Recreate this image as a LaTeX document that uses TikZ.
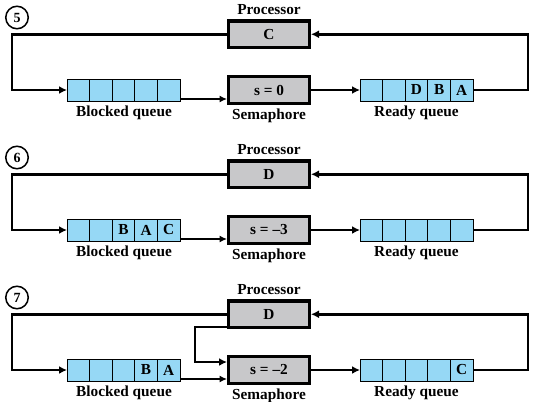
\documentclass[tikz,border=0pt]{standalone}
\usepackage{fontspec}
\setmainfont{Liberation Serif}
\usepackage{tikz}
\usetikzlibrary{arrows.meta,calc}
\definecolor{qblue}{RGB}{150,216,245}
\definecolor{boxgray}{RGB}{200,200,202}

\begin{document}
\begin{tikzpicture}[
  x=1pt,y=1pt,>={Latex[length=8pt,width=8pt]},
  every node/.style={font=\bfseries\fontsize{15.3}{17}\selectfont},
  cell/.style={draw,fill=qblue,line width=0.8pt,minimum width=22.6pt,minimum height=22pt,inner sep=0pt,outer sep=0pt},
  unit/.style={draw,fill=boxgray,line width=3.3pt,minimum width=80.7pt,minimum height=26.5pt,inner sep=0pt},
  tag/.style={draw,circle,line width=1.5pt,minimum size=22.5pt,inner sep=0pt,font=\bfseries\fontsize{14}{15}\selectfont},
  loopline/.style={->,line width=2.6pt},
  feed/.style={->,line width=1.3pt,>={Latex[length=7.5pt,width=7pt]}}
]
  \useasboundingbox (0,0) rectangle (536,-402);

  % Panel 5
  \node[tag] (t5) at (17,-17.5) {5};
  \node (p5lbl) at (269,-9.5) {Processor};
  \node[unit] (p5) at (269,-34.25) {C};
  \node[unit] (s5) at (269,-90) {s = 0};
  \node (s5lbl) at (269,-115.5) {Semaphore};
  \node[cell] (b5a) at (78.3,-90)  {};
  \node[cell] (b5b) at (100.9,-90) {};
  \node[cell] (b5c) at (123.5,-90) {};
  \node[cell] (b5d) at (146.1,-90) {};
  \node[cell] (b5e) at (168.7,-90) {};
  \node (b5lbl) at (124,-113) {Blocked queue};
  \node[cell] (r5a) at (371.3,-90) {};
  \node[cell] (r5b) at (393.9,-90) {};
  \node[cell] (r5c) at (416.5,-90) {D};
  \node[cell] (r5d) at (439.1,-90) {B};
  \node[cell] (r5e) at (461.7,-90) {A};
  \node (r5lbl) at (416.5,-113) {Ready queue};
  \coordinate (L5) at (12,-34.25);
  \coordinate (R5) at (528,-34.25);
  \draw[loopline] (p5.west) -- (L5) |- (b5a.west);
  \draw[loopline] (r5e.east) -| (R5) -- (p5.east);
  \draw[feed] ($(b5e.south east)+(0,2)$) -- ($(s5.west |- b5e.south east)+(0,2)$);
  \draw[loopline] (s5.east) -- (r5a.west);

  % Panel 6
  \node[tag] (t6) at (17,-157.5) {6};
  \node (p6lbl) at (269,-149.5) {Processor};
  \node[unit] (p6) at (269,-174.25) {D};
  \node[unit] (s6) at (269,-230) {s = –3};
  \node (s6lbl) at (269,-255.5) {Semaphore};
  \node[cell] (b6a) at (78.3,-230)  {};
  \node[cell] (b6b) at (100.9,-230) {};
  \node[cell] (b6c) at (123.5,-230) {B};
  \node[cell] (b6d) at (146.1,-230) {A};
  \node[cell] (b6e) at (168.7,-230) {C};
  \node (b6lbl) at (124,-253) {Blocked queue};
  \node[cell] (r6a) at (371.3,-230) {};
  \node[cell] (r6b) at (393.9,-230) {};
  \node[cell] (r6c) at (416.5,-230) {};
  \node[cell] (r6d) at (439.1,-230) {};
  \node[cell] (r6e) at (461.7,-230) {};
  \node (r6lbl) at (416.5,-253) {Ready queue};
  \coordinate (L6) at (12,-174.25);
  \coordinate (R6) at (528,-174.25);
  \draw[loopline] (p6.west) -- (L6) |- (b6a.west);
  \draw[loopline] (r6e.east) -| (R6) -- (p6.east);
  \draw[feed] ($(b6e.south east)+(0,2)$) -- ($(s6.west |- b6e.south east)+(0,2)$);
  \draw[loopline] (s6.east) -- (r6a.west);

  % Panel 7 (processor also feeds the semaphore)
  \node[tag] (t7) at (17,-297.5) {7};
  \node (p7lbl) at (269,-289.5) {Processor};
  \node[unit] (p7) at (269,-314.25) {D};
  \node[unit] (s7) at (269,-370) {s = –2};
  \node (s7lbl) at (269,-395.5) {Semaphore};
  \node[cell] (b7a) at (78.3,-370)  {};
  \node[cell] (b7b) at (100.9,-370) {};
  \node[cell] (b7c) at (123.5,-370) {};
  \node[cell] (b7d) at (146.1,-370) {B};
  \node[cell] (b7e) at (168.7,-370) {A};
  \node (b7lbl) at (124,-393) {Blocked queue};
  \node[cell] (r7a) at (371.3,-370) {};
  \node[cell] (r7b) at (393.9,-370) {};
  \node[cell] (r7c) at (416.5,-370) {};
  \node[cell] (r7d) at (439.1,-370) {};
  \node[cell] (r7e) at (461.7,-370) {C};
  \node (r7lbl) at (416.5,-393) {Ready queue};
  \coordinate (L7) at (12,-314.25);
  \coordinate (R7) at (528,-314.25);
  \coordinate (K7) at (195,-362);
  \draw[loopline] (p7.west) -- (L7) |- (b7a.west);
  \draw[loopline] (r7e.east) -| (R7) -- (p7.east);
  \draw[loopline] ([yshift=2pt]p7.south west) -| (K7) -- (s7.west |- K7);
  \draw[feed] ($(b7e.south east)+(0,2)$) -- ($(s7.west |- b7e.south east)+(0,2)$);
  \draw[loopline] (s7.east) -- (r7a.west);
\end{tikzpicture}
\end{document}
